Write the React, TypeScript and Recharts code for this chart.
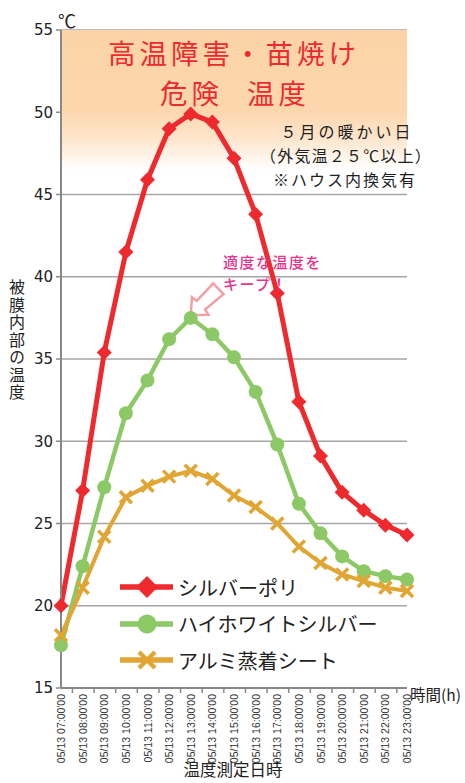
import React from 'react';
import {
  LineChart,
  Line,
  XAxis,
  YAxis,
  CartesianGrid,
  ReferenceArea,
  ReferenceDot,
  Legend,
} from 'recharts';

const times = [
  "05/13 07:00'00", "05/13 08:00'00", "05/13 09:00'00", "05/13 10:00'00",
  "05/13 11:00'00", "05/13 12:00'00", "05/13 13:00'00", "05/13 14:00'00",
  "05/13 15:00'00", "05/13 16:00'00", "05/13 17:00'00", "05/13 18:00'00",
  "05/13 19:00'00", "05/13 20:00'00", "05/13 21:00'00", "05/13 22:00'00",
  "05/13 23:00'00",
];

const silverPoly = [20.0, 27.0, 35.4, 41.5, 45.9, 49.0, 49.9, 49.4, 47.2, 43.8, 39.0, 32.4, 29.1, 26.9, 25.8, 24.9, 24.3];
const hiWhiteSilver = [17.6, 22.4, 27.2, 31.7, 33.7, 36.2, 37.5, 36.5, 35.1, 33.0, 29.8, 26.2, 24.4, 23.0, 22.1, 21.8, 21.6];
const aluminium = [18.2, 21.1, 24.2, 26.6, 27.3, 27.85, 28.2, 27.7, 26.7, 26.0, 25.0, 23.6, 22.6, 21.9, 21.5, 21.1, 20.9];

const yTicks = [15, 20, 25, 30, 35, 40, 45, 50, 55];

const seriesOrder = ['silverPoly', 'hiWhiteSilver', 'aluminium'];
const seriesNames = {
  silverPoly: 'シルバーポリ',
  hiWhiteSilver: 'ハイホワイトシルバー',
  aluminium: 'アルミ蒸着シート',
};

const RED = '#ee2a2e';
const GREEN = '#8cc966';
const ORANGE = '#e0a533';
const JP = '"Noto Sans CJK JP", "Noto Sans", sans-serif';

const W = 465;
const H = 783;
const M = { top: 30, right: 58, bottom: 0, left: 0 };
const Y_W = 61;
const X_H = 95;
const BAND = (W - M.left - M.right - Y_W) / times.length;

const data = times.map((t, i) => ({
  time: t,
  silverPoly: silverPoly[i],
  hiWhiteSilver: hiWhiteSilver[i],
  aluminium: aluminium[i],
}));

const diamond = (cx: number, cy: number, r: number, color: string, key?: string) => (
  <polygon key={key} points={`${cx},${cy - r} ${cx + r},${cy} ${cx},${cy + r} ${cx - r},${cy}`} fill={color} />
);

const cross = (cx: number, cy: number, r: number, w: number, color: string, key?: string) => (
  <g key={key} stroke={color} strokeWidth={w}>
    <line x1={cx - r} y1={cy - r} x2={cx + r} y2={cy + r} />
    <line x1={cx - r} y1={cy + r} x2={cx + r} y2={cy - r} />
  </g>
);

const markerFor = (key: string, cx: number, cy: number) => {
  if (key === 'silverPoly') return diamond(cx, cy, 11, RED);
  if (key === 'hiWhiteSilver') return <circle cx={cx} cy={cy} r={9.5} fill={GREEN} />;
  return cross(cx, cy, 8, 4.5, ORANGE);
};

const colorFor: Record<string, string> = { silverPoly: RED, hiWhiteSilver: GREEN, aluminium: ORANGE };

const XTick = (props: any) => {
  const { x, y, payload, index } = props;
  const last = index === times.length - 1;
  return (
    <g>
      <line x1={x - BAND / 2} y1={y - 8} x2={x - BAND / 2} y2={y - 3} stroke="#888" strokeWidth={1.5} />
      {last && <line x1={x + BAND / 2} y1={y - 8} x2={x + BAND / 2} y2={y - 3} stroke="#888" strokeWidth={1.5} />}
      <text
        x={x + 4}
        y={y - 2}
        transform={`rotate(-90 ${x + 4} ${y - 2})`}
        textAnchor="end"
        fontSize={10.5}
        fontFamily='"Liberation Sans", Arial, sans-serif'
        fill="#333"
      >
        {payload.value}
      </text>
    </g>
  );
};

const ArrowShape = (props: any) => {
  const { cx, cy } = props;
  const tx = cx;
  const ty = cy - 3;
  const u = [0.727, -0.688];
  const v = [0.688, 0.727];
  const pts = [
    [0, 0], [13, -12], [14, -6], [38, -7.5], [38, 7.5], [14, 6], [13, 12],
  ].map(([a, b]) => `${tx + a * u[0] + b * v[0]},${ty + a * u[1] + b * v[1]}`);
  return <polygon points={pts.join(' ')} fill="#fff" stroke="#f4a0a3" strokeWidth={2.5} strokeLinejoin="miter" />;
};

const LegendContent = (props: any) => {
  const items = [...(props.payload || [])].sort(
    (a: any, b: any) => seriesOrder.indexOf(a.dataKey) - seriesOrder.indexOf(b.dataKey)
  );
  return (
    <div>
      {items.map((entry: any) => {
        const key = entry.dataKey as string;
        return (
          <div key={key} style={{ display: 'flex', alignItems: 'center', height: 36.5 }}>
            <svg width={53} height={26} style={{ display: 'block' }}>
              <line x1={0} y1={13} x2={53} y2={13} stroke={colorFor[key]} strokeWidth={5.5} />
              {markerFor(key, 27, 13)}
            </svg>
            <span style={{ marginLeft: 5, fontFamily: JP, fontSize: 20, color: '#222', whiteSpace: 'nowrap' }}>
              {entry.value}
            </span>
          </div>
        );
      })}
    </div>
  );
};

export default function App() {
  return (
    <div style={{ position: 'absolute', left: 0, top: 0, width: W, height: H, background: '#fff', overflow: 'hidden' }}>
      <LineChart width={W} height={H} data={data} margin={M}>
        <defs>
          <linearGradient id="dangerGrad" x1="0" y1="0" x2="0" y2="1">
            <stop offset="0" stopColor="#fbd3a6" />
            <stop offset="0.58" stopColor="#fcd7ae" />
            <stop offset="0.78" stopColor="#fde6cd" />
            <stop offset="1" stopColor="#ffffff" />
          </linearGradient>
        </defs>
        <ReferenceArea y1={46.5} y2={55} fill="url(#dangerGrad)" fillOpacity={1} stroke="none" />
        <CartesianGrid vertical={false} stroke="#a6a6a6" strokeWidth={1.5} />
        <XAxis
          dataKey="time"
          interval={0}
          height={X_H}
          tickLine={false}
          tickSize={6}
          tickMargin={2}
          tick={<XTick />}
          axisLine={{ stroke: '#888', strokeWidth: 2 }}
        />
        <YAxis
          domain={[15, 55]}
          ticks={yTicks}
          width={Y_W}
          tickSize={5}
          tickMargin={3}
          tickLine={{ stroke: '#888', strokeWidth: 1.5 }}
          axisLine={{ stroke: '#888', strokeWidth: 2 }}
          tick={{ fontSize: 15, fill: '#222', fontFamily: '"DejaVu Sans", sans-serif' }}
        />
        <Legend
          layout="horizontal"
          verticalAlign="middle"
          align="center"
          content={<LegendContent />}
          wrapperStyle={{ position: 'absolute', left: 120, top: 569, width: 280 }}
        />
        <Line
          dataKey="silverPoly"
          name={seriesNames.silverPoly}
          stroke={RED}
          strokeWidth={5}
          isAnimationActive={false}
          dot={(p: any) => diamond(p.cx, p.cy, 7.5, RED, `sp-${p.index}`)}
          activeDot={false}
        />
        <Line
          dataKey="hiWhiteSilver"
          name={seriesNames.hiWhiteSilver}
          stroke={GREEN}
          strokeWidth={4.5}
          isAnimationActive={false}
          dot={(p: any) => <circle key={`hw-${p.index}`} cx={p.cx} cy={p.cy} r={7} fill={GREEN} />}
          activeDot={false}
        />
        <Line
          dataKey="aluminium"
          name={seriesNames.aluminium}
          stroke={ORANGE}
          strokeWidth={4}
          isAnimationActive={false}
          dot={(p: any) => cross(p.cx, p.cy, 6, 3.5, ORANGE, `al-${p.index}`)}
          activeDot={false}
        />
        <ReferenceDot x={times[6]} y={hiWhiteSilver[6]} shape={<ArrowShape />} />
      </LineChart>
      <svg width={W} height={H} style={{ position: 'absolute', left: 0, top: 0, pointerEvents: 'none' }}>
        <text x={67} y={20} fontSize={18} fontFamily={JP} fill="#222" textAnchor="middle" dominantBaseline="central">℃</text>
        <text x={234} y={51.5} fontSize={27.5} letterSpacing={4} fontFamily={JP} fill={RED} textAnchor="middle" dominantBaseline="central">高温障害・苗焼け</text>
        <text x={235} y={91.5} fontSize={27.5} letterSpacing={4} wordSpacing={14} fontFamily={JP} fill={RED} textAnchor="middle" dominantBaseline="central">危険 温度</text>
        <text x={347} y={131} fontSize={16} letterSpacing={3} fontFamily={JP} fill="#1e1e1e" textAnchor="middle" dominantBaseline="central">５月の暖かい日</text>
        <text x={346} y={155} fontSize={16} letterSpacing={1.2} fontFamily={JP} fill="#1e1e1e" textAnchor="middle" dominantBaseline="central">（外気温２５℃以上）</text>
        <text x={345} y={179} fontSize={16} letterSpacing={2} fontFamily={JP} fill="#1e1e1e" textAnchor="middle" dominantBaseline="central">※ハウス内換気有</text>
        <text x={223} y={261} fontSize={15} letterSpacing={1.5} fontWeight={500} fontFamily={JP} fill="#e8328c" dominantBaseline="central">適度な温度を</text>
        <text x={223} y={283} fontSize={15} letterSpacing={1.5} fontWeight={500} fontFamily={JP} fill="#e8328c" dominantBaseline="central">キープ！</text>
        <text x={410} y={694} fontSize={15.5} fontFamily={JP} fill="#222" dominantBaseline="central">時間(h)</text>
        <text x={233} y={769} fontSize={16.5} fontFamily={JP} fill="#222" textAnchor="middle" dominantBaseline="central">温度測定日時</text>
        <text x={17} y={279} fontSize={16} letterSpacing={1.5} fontFamily={JP} fill="#222" style={{ writingMode: 'vertical-rl' }}>被膜内部の温度</text>
      </svg>
    </div>
  );
}
